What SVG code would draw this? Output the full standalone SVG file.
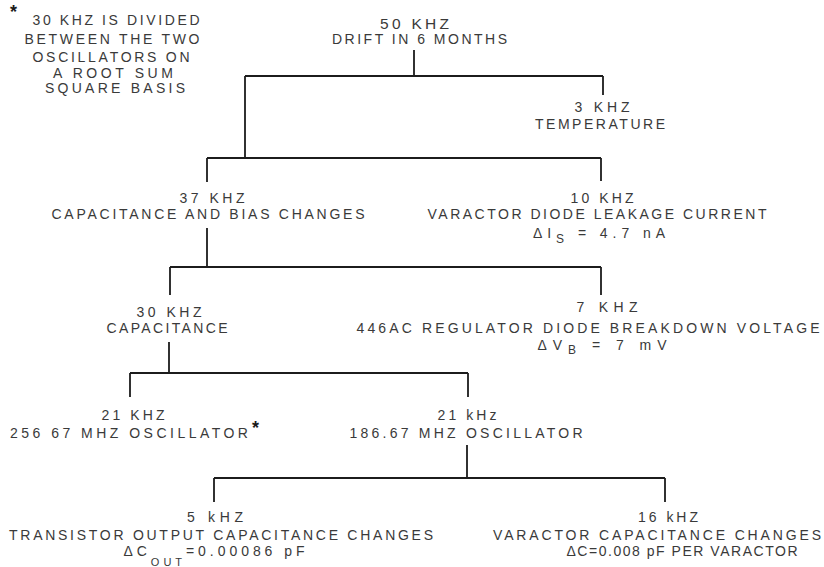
<svg xmlns="http://www.w3.org/2000/svg" width="824" height="567" viewBox="0 0 824 567">
  <style>
    text { font-family: "Liberation Sans", Arial, sans-serif; font-size: 14px; fill: #3a3a3a; text-anchor: middle; }
    .big { font-size: 15.5px; }
    .left { text-anchor: start; }
    .star { font-size: 18px; font-weight: bold; fill: #1a1a1a; text-anchor: start; }
    .conn path { fill: none; stroke: #1c1c1c; stroke-width: 1.8; }
  </style>
  <rect width="824" height="567" fill="#ffffff"/>

  <!-- footnote -->
  <g id="footnote">
    <text class="star" x="10" y="18">*</text>
    <text x="116" y="25" textLength="167" lengthAdjust="spacing">30 KHZ IS DIVIDED</text>
    <text x="112" y="43.5" textLength="175" lengthAdjust="spacing">BETWEEN THE TWO</text>
    <text x="111" y="61.5" textLength="157" lengthAdjust="spacing">OSCILLATORS ON</text>
    <text x="113" y="77.5" textLength="120" lengthAdjust="spacing">A ROOT SUM</text>
    <text x="115" y="92.5" textLength="140" lengthAdjust="spacing">SQUARE BASIS</text>
  </g>

  <!-- connectors -->
  <g class="conn" id="connectors">
    <path d="M414 50 V76 M245 76 H603 M603 76 V95 M245 76 V158"/>
    <path d="M207 158 H601 M207 158 V182 M601 158 V181"/>
    <path d="M207 228 V267 M170 267 H601 M170 267 V295 M601 267 V295"/>
    <path d="M169 342 V373 M130 373 H468 M130 373 V397 M468 373 V397"/>
    <path d="M467 445 V478 M214 478 H665 M214 478 V502 M665 478 V502"/>
  </g>

  <g id="drift">
    <text class="big" x="414.5" y="29" textLength="69" lengthAdjust="spacing">50 KHZ</text>
    <text x="419.5" y="44" textLength="175" lengthAdjust="spacing">DRIFT IN 6 MONTHS</text>
  </g>

  <g id="temperature">
    <text x="602" y="112" textLength="55" lengthAdjust="spacing">3 KHZ</text>
    <text x="600" y="129" textLength="130" lengthAdjust="spacing">TEMPERATURE</text>
  </g>

  <g id="cap-bias">
    <text x="212" y="203" textLength="65" lengthAdjust="spacing">37 KHZ</text>
    <text x="208" y="219" textLength="313" lengthAdjust="spacing">CAPACITANCE AND BIAS CHANGES</text>
  </g>

  <g id="leakage">
    <text x="602" y="203" textLength="63" lengthAdjust="spacing">10 KHZ</text>
    <text x="597" y="219" textLength="339" lengthAdjust="spacing">VARACTOR DIODE LEAKAGE CURRENT</text>
    <text x="599" y="238" textLength="132" lengthAdjust="spacing">ΔI<tspan font-size="12" dy="5">S</tspan><tspan dy="-5"> = 4.7 nA</tspan></text>
  </g>

  <g id="capacitance">
    <text x="169" y="317" textLength="65" lengthAdjust="spacing">30 KHZ</text>
    <text x="167" y="333" textLength="121" lengthAdjust="spacing">CAPACITANCE</text>
  </g>

  <g id="regulator">
    <text x="607" y="312" textLength="61" lengthAdjust="spacing">7 KHZ</text>
    <text x="588" y="333" textLength="463" lengthAdjust="spacing">446AC REGULATOR DIODE BREAKDOWN VOLTAGE</text>
    <text x="602" y="350" textLength="129" lengthAdjust="spacing">ΔV<tspan font-size="12" dy="4">B</tspan><tspan dy="-4"> = 7 mV</tspan></text>
  </g>

  <g id="osc-256">
    <text x="133" y="420" textLength="63" lengthAdjust="spacing">21 KHZ</text>
    <text class="left" x="10" y="438" textLength="238" lengthAdjust="spacing">256 67 MHZ OSCILLATOR</text>
    <text class="star" x="252" y="434">*</text>
  </g>

  <g id="osc-186">
    <text x="467" y="420" textLength="59" lengthAdjust="spacing">21 kHz</text>
    <text x="466" y="438" textLength="233" lengthAdjust="spacing">186.67 MHZ OSCILLATOR</text>
  </g>

  <g id="transistor">
    <text x="215" y="522" textLength="56" lengthAdjust="spacing">5 kHZ</text>
    <text x="221" y="540" textLength="424" lengthAdjust="spacing">TRANSISTOR OUTPUT CAPACITANCE CHANGES</text>
    <text x="214" y="556" textLength="181" lengthAdjust="spacing">ΔC<tspan font-size="11" dy="10">OUT</tspan><tspan dy="-10">=0.00086 pF</tspan></text>
  </g>

  <g id="varactor">
    <text x="668" y="522" textLength="60" lengthAdjust="spacing">16 kHZ</text>
    <text x="657" y="540" textLength="328" lengthAdjust="spacing">VARACTOR CAPACITANCE CHANGES</text>
    <text x="682" y="556" textLength="231" lengthAdjust="spacing">ΔC=0.008 pF  PER VARACTOR</text>
  </g>
</svg>
